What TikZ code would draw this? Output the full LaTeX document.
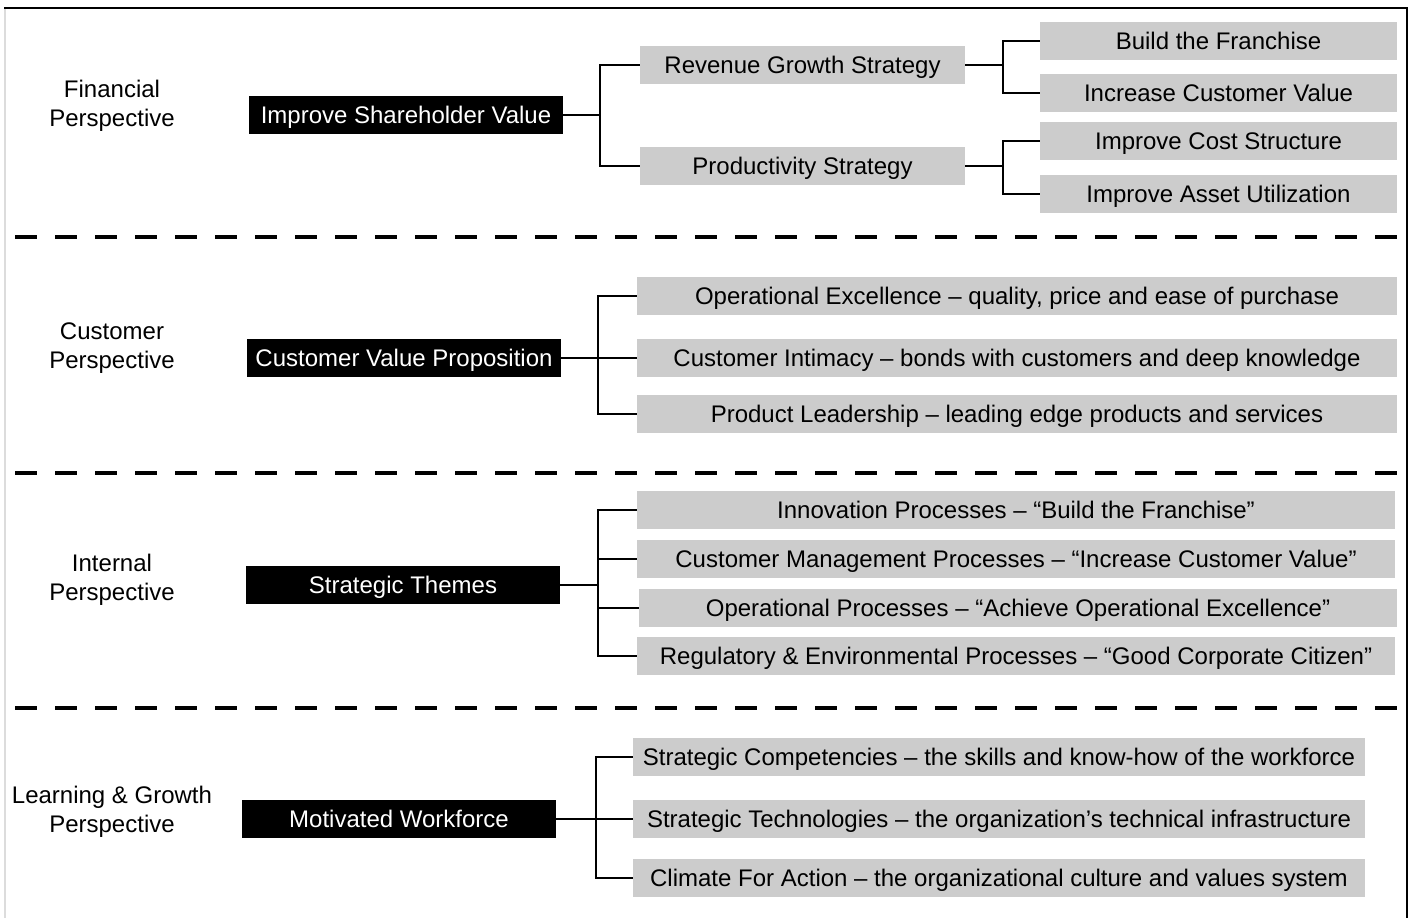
\documentclass[tikz,border=0pt]{standalone}
\usepackage{fontspec}
\setmainfont{Liberation Sans}
\usepackage{tikz}
\usetikzlibrary{calc}
\definecolor{boxgray}{RGB}{204,204,204}
\definecolor{edgegray}{RGB}{220,220,220}

\begin{document}
\begin{tikzpicture}[x=0.75pt,y=-0.75pt,
  every node/.style={font=\fontsize{18}{21.5}\selectfont},
  persp/.style={align=center},
  theme/.style={fill=black,text=white,minimum width=235.5pt,minimum height=29pt,inner sep=0pt,text depth=0pt},
  item/.style={fill=boxgray,minimum height=29pt,inner sep=0pt,text depth=0pt},
  link/.style={line width=2pt},
  sep/.style={line width=3pt,dash pattern=on 16.5pt off 13.5pt}]
\useasboundingbox (0,0) rectangle (1411,918);
\draw[edgegray,line width=1.5pt] (4.5,8) -- (4.5,918);
\draw[line width=1.5pt] (4,8) -- (1407,8) -- (1407,918);

\node[persp] (fin) at (112,106) {Financial\\Perspective};
\node[theme] (isv) at (406,115) {Improve Shareholder Value};
\node[item,minimum width=244pt] (rgs) at (802.5,65) {Revenue Growth Strategy};
\node[item,minimum width=244pt] (ps) at (802.5,166) {Productivity Strategy};
\node[item,minimum width=268pt] (btf) at (1218.5,41) {Build the Franchise};
\node[item,minimum width=268pt] (icv) at (1218.5,93) {Increase Customer Value};
\node[item,minimum width=268pt] (ics) at (1218.5,141) {Improve Cost Structure};
\node[item,minimum width=268pt] (iau) at (1218.5,194) {Improve Asset Utilization};
\coordinate (j1) at (600,115);
\coordinate (k1) at (1003,65);
\coordinate (k2) at (1003,166);
\draw[link] (isv) -- (j1);
\draw[link] (rgs) -| (j1) |- (ps);
\draw[link] (rgs) -- (k1);
\draw[link] (btf) -| (k1) |- (icv);
\draw[link] (ps) -- (k2);
\draw[link] (ics) -| (k2) |- (iau);

\draw[sep] (15,237) -- (1397,237);

\node[persp] (cus) at (112,348) {Customer\\Perspective};
\node[theme] (cvp) at (404,358) {Customer Value Proposition};
\node[item,minimum width=570pt] (oe) at (1017,296) {Operational Excellence – quality, price and ease of purchase};
\node[item,minimum width=570pt] (ci) at (1017,358) {Customer Intimacy – bonds with customers and deep knowledge};
\node[item,minimum width=570pt] (pl) at (1017,414) {Product Leadership – leading edge products and services};
\coordinate (j2) at (598,358);
\draw[link] (cvp) -- (ci);
\draw[link] (oe) -| (j2) |- (pl);

\draw[sep] (15,473) -- (1397,473);

\node[persp] (int) at (112,580) {Internal\\Perspective};
\node[theme] (st) at (403,585) {Strategic Themes};
\node[item,minimum width=568.5pt] (ip) at (1016,510) {Innovation Processes – “Build the Franchise”};
\node[item,minimum width=568.5pt] (cmp) at (1016,559) {Customer Management Processes – “Increase Customer Value”};
\node[item,minimum width=568.5pt] (op) at (1018,608) {Operational Processes – “Achieve Operational Excellence”};
\node[item,minimum width=568.5pt] (rep) at (1016,656) {Regulatory \& Environmental Processes – “Good Corporate Citizen”};
\coordinate (j3) at (598,585);
\draw[link] (st) -- (j3);
\draw[link] (ip) -| (j3) |- (rep);
\draw[link] (cmp) -| (j3);
\draw[link] (op) -| (j3);

\draw[sep] (15,708) -- (1397,708);

\node[persp] (lg) at (112,812) {Learning \& Growth\\Perspective};
\node[theme] (mw) at (399,819) {Motivated Workforce};
\node[item,minimum width=549pt] (sc) at (999,757) {Strategic Competencies – the skills and know-how of the workforce};
\node[item,minimum width=549pt] (stec) at (999,819) {Strategic Technologies – the organization’s technical infrastructure};
\node[item,minimum width=549pt] (cfa) at (999,878) {Climate For Action – the organizational culture and values system};
\coordinate (j4) at (596,819);
\draw[link] (mw) -- (stec);
\draw[link] (sc) -| (j4) |- (cfa);
\end{tikzpicture}
\end{document}
